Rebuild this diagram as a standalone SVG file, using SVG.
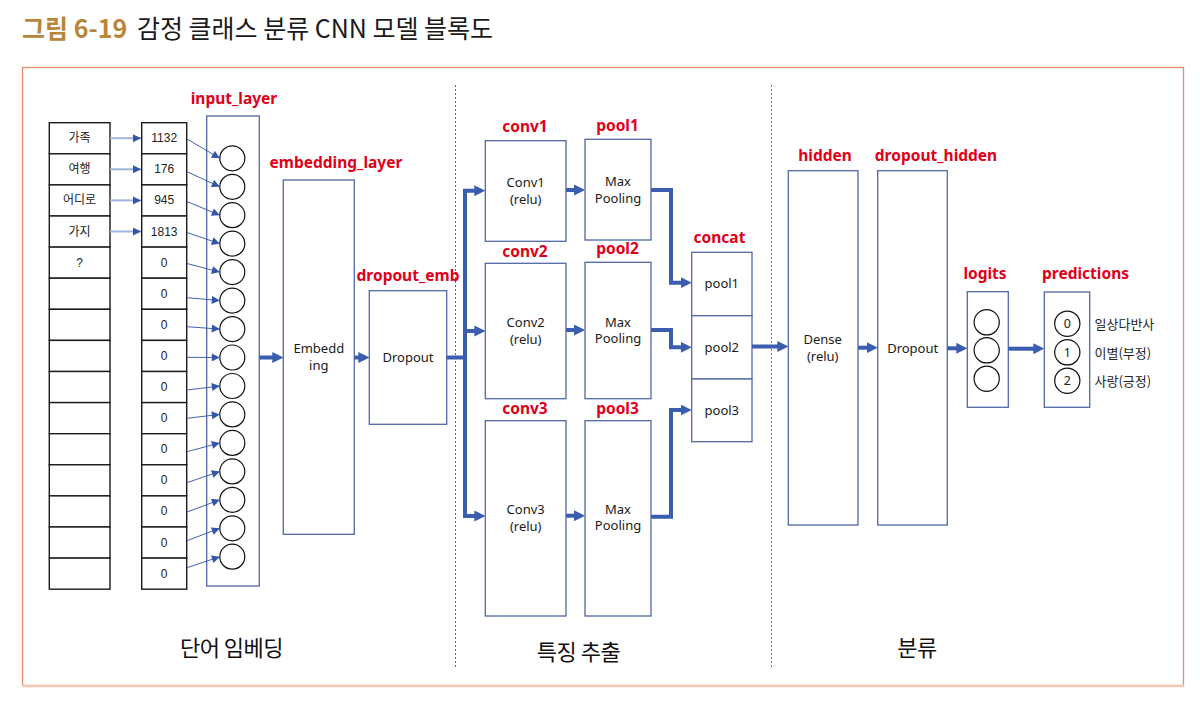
<svg xmlns="http://www.w3.org/2000/svg" width="1200" height="710" viewBox="0 0 1200 710">
<style>
.kr{font-family:"Noto Sans CJK KR","Noto Sans",sans-serif;}
.lbl{font-family:"Noto Sans","Noto Sans CJK KR",sans-serif;font-weight:700;font-size:15.5px;fill:#e00018;text-anchor:middle;}
.tx{font-family:"Noto Sans","Noto Sans CJK KR",sans-serif;font-size:13px;fill:#1a1a1a;text-anchor:middle;}
.cell{fill:#fff;stroke:#1a1a1a;stroke-width:1.4;}
.ctx{font-family:"Liberation Sans","Noto Sans CJK KR",sans-serif;font-size:12px;fill:#222;text-anchor:middle;dominant-baseline:central;}
.num{font-family:"Noto Sans",sans-serif;font-size:12.5px;fill:#222;text-anchor:middle;dominant-baseline:central;}
.cls{font-family:"Noto Sans CJK KR",sans-serif;font-size:13px;fill:#222;text-anchor:start;dominant-baseline:central;}
.box{fill:#fff;stroke:#5167a6;stroke-width:1.3;}
.circ{fill:#fff;stroke:#111;stroke-width:1.2;}
.thick{fill:none;stroke:#3a5db0;stroke-width:4;marker-end:url(#ah);}
.thickn{fill:none;stroke:#3a5db0;stroke-width:4;}
.thin{fill:none;stroke:#3f63b5;stroke-width:1;marker-end:url(#as);}
.thinl{fill:none;stroke:#9fb4dc;stroke-width:2;marker-end:url(#as);}
.sec{font-family:"Noto Sans CJK KR",sans-serif;font-size:22px;fill:#111;text-anchor:middle;}
</style>
<defs>
<marker id="ah" viewBox="0 0 10 10" refX="6" refY="5" markerWidth="11" markerHeight="11" markerUnits="userSpaceOnUse" orient="auto"><path d="M0,0 L10,5 L0,10 z" fill="#3a5db0"/></marker>
<marker id="as" viewBox="0 0 10 10" refX="10" refY="5" markerWidth="9" markerHeight="8" markerUnits="userSpaceOnUse" orient="auto"><path d="M0,0 L10,5 L0,10 z" fill="#3355aa"/></marker>
</defs>
<rect width="1200" height="710" fill="#fff"/>

<g id="title">
<text x="22" y="37.5" class="kr" font-size="25"><tspan font-weight="700" fill="#b8863b">그림 6-19</tspan><tspan x="137" fill="#1a1a1a">감정 클래스 분류 CNN 모델 블록도</tspan></text>
</g>

<g id="frame">
<rect x="22.5" y="67.5" width="1161" height="618" fill="none" stroke="#eb8a66" stroke-width="1.3"/>
<line x1="22" y1="686" x2="1184" y2="686" stroke="#f4c6b4" stroke-width="2.5"/>
<line x1="455.5" y1="85" x2="455.5" y2="667" stroke="#8a5a62" stroke-width="1" stroke-dasharray="2,2"/>
<line x1="771.5" y1="85" x2="771.5" y2="667" stroke="#e04a5a" stroke-width="1" stroke-dasharray="2,2"/>
</g>

<g id="sections">
<text x="231.5" y="656" class="sec" letter-spacing="-0.5">단어 임베딩</text>
<text x="578.5" y="660" class="sec" letter-spacing="-0.5">특징 추출</text>
<text x="917" y="656" class="sec" letter-spacing="-0.5">분류</text>
</g>

<g id="words">
<rect class="cell" x="49.3" y="122.7" width="60.7" height="31.1"/>
<rect class="cell" x="49.3" y="153.8" width="60.7" height="31.1"/>
<rect class="cell" x="49.3" y="184.9" width="60.7" height="31.1"/>
<rect class="cell" x="49.3" y="216" width="60.7" height="31.1"/>
<rect class="cell" x="49.3" y="247.1" width="60.7" height="31.1"/>
<rect class="cell" x="49.3" y="278.2" width="60.7" height="31.1"/>
<rect class="cell" x="49.3" y="309.3" width="60.7" height="31.1"/>
<rect class="cell" x="49.3" y="340.4" width="60.7" height="31.1"/>
<rect class="cell" x="49.3" y="371.5" width="60.7" height="31.1"/>
<rect class="cell" x="49.3" y="402.6" width="60.7" height="31.1"/>
<rect class="cell" x="49.3" y="433.7" width="60.7" height="31.1"/>
<rect class="cell" x="49.3" y="464.8" width="60.7" height="31.1"/>
<rect class="cell" x="49.3" y="495.9" width="60.7" height="31.1"/>
<rect class="cell" x="49.3" y="527" width="60.7" height="31.1"/>
<rect class="cell" x="49.3" y="558.1" width="60.7" height="31.1"/>
<text class="ctx" x="79.6" y="138.2">가족</text>
<text class="ctx" x="79.6" y="169.3">여행</text>
<text class="ctx" x="79.6" y="200.4">어디로</text>
<text class="ctx" x="79.6" y="231.5">가지</text>
<text class="ctx" x="79.6" y="262.6">?</text>
</g>

<g id="indices">
<rect class="cell" x="141.7" y="122.7" width="45" height="31.1"/>
<rect class="cell" x="141.7" y="153.8" width="45" height="31.1"/>
<rect class="cell" x="141.7" y="184.9" width="45" height="31.1"/>
<rect class="cell" x="141.7" y="216" width="45" height="31.1"/>
<rect class="cell" x="141.7" y="247.1" width="45" height="31.1"/>
<rect class="cell" x="141.7" y="278.2" width="45" height="31.1"/>
<rect class="cell" x="141.7" y="309.3" width="45" height="31.1"/>
<rect class="cell" x="141.7" y="340.4" width="45" height="31.1"/>
<rect class="cell" x="141.7" y="371.5" width="45" height="31.1"/>
<rect class="cell" x="141.7" y="402.6" width="45" height="31.1"/>
<rect class="cell" x="141.7" y="433.7" width="45" height="31.1"/>
<rect class="cell" x="141.7" y="464.8" width="45" height="31.1"/>
<rect class="cell" x="141.7" y="495.9" width="45" height="31.1"/>
<rect class="cell" x="141.7" y="527" width="45" height="31.1"/>
<rect class="cell" x="141.7" y="558.1" width="45" height="31.1"/>
<text class="ctx" x="164.2" y="138.2">1132</text>
<text class="ctx" x="164.2" y="169.3">176</text>
<text class="ctx" x="164.2" y="200.4">945</text>
<text class="ctx" x="164.2" y="231.5">1813</text>
<text class="ctx" x="164.2" y="262.6">0</text>
<text class="ctx" x="164.2" y="293.7">0</text>
<text class="ctx" x="164.2" y="324.8">0</text>
<text class="ctx" x="164.2" y="355.9">0</text>
<text class="ctx" x="164.2" y="387">0</text>
<text class="ctx" x="164.2" y="418.1">0</text>
<text class="ctx" x="164.2" y="449.2">0</text>
<text class="ctx" x="164.2" y="480.3">0</text>
<text class="ctx" x="164.2" y="511.4">0</text>
<text class="ctx" x="164.2" y="542.5">0</text>
<text class="ctx" x="164.2" y="573.6">0</text>
</g>

<g id="input_layer">
<text class="lbl" x="234" y="104">input_layer</text>
<rect class="box" x="206.7" y="116" width="52.6" height="470"/>
<circle class="circ" cx="232.3" cy="158.3" r="12.5"/>
<circle class="circ" cx="232.3" cy="186.8" r="12.5"/>
<circle class="circ" cx="232.3" cy="215.2" r="12.5"/>
<circle class="circ" cx="232.3" cy="243.7" r="12.5"/>
<circle class="circ" cx="232.3" cy="272.1" r="12.5"/>
<circle class="circ" cx="232.3" cy="300.6" r="12.5"/>
<circle class="circ" cx="232.3" cy="329.1" r="12.5"/>
<circle class="circ" cx="232.3" cy="357.5" r="12.5"/>
<circle class="circ" cx="232.3" cy="386" r="12.5"/>
<circle class="circ" cx="232.3" cy="414.4" r="12.5"/>
<circle class="circ" cx="232.3" cy="442.9" r="12.5"/>
<circle class="circ" cx="232.3" cy="471.4" r="12.5"/>
<circle class="circ" cx="232.3" cy="499.8" r="12.5"/>
<circle class="circ" cx="232.3" cy="528.3" r="12.5"/>
<circle class="circ" cx="232.3" cy="556.7" r="12.5"/>
</g>

<g id="embedding_layer">
<text class="lbl" x="336" y="167.5">embedding_layer</text>
<rect class="box" x="283.3" y="180" width="71" height="354.3"/>
<text class="tx" x="318.8" y="352.5">Embedd</text>
<text class="tx" x="318.8" y="370">ing</text>
</g>

<g id="dropout_emb">
<text class="lbl" x="408" y="280.5">dropout_emb</text>
<rect class="box" x="369.3" y="290.7" width="77.4" height="133.6"/>
<text class="tx" x="408" y="362">Dropout</text>
</g>

<g id="conv1">
<text class="lbl" x="525" y="131.5">conv1</text>
<rect class="box" x="485.3" y="140.7" width="80.7" height="100.6"/>
<text class="tx" x="525.7" y="186.8">Conv1</text>
<text class="tx" x="525.7" y="203.8">(relu)</text>
</g>
<g id="pool1">
<text class="lbl" x="617.5" y="130.5">pool1</text>
<rect class="box" x="585" y="139.3" width="66" height="100.7"/>
<text class="tx" x="618" y="186.2">Max</text>
<text class="tx" x="618" y="203.2">Pooling</text>
</g>
<g id="conv2">
<text class="lbl" x="525" y="257">conv2</text>
<rect class="box" x="485.3" y="263.3" width="80.7" height="135.4"/>
<text class="tx" x="525.7" y="326.8">Conv2</text>
<text class="tx" x="525.7" y="343.8">(relu)</text>
</g>
<g id="pool2">
<text class="lbl" x="617.5" y="253.5">pool2</text>
<rect class="box" x="585" y="262.3" width="66" height="136.4"/>
<text class="tx" x="618" y="326.8">Max</text>
<text class="tx" x="618" y="343.2">Pooling</text>
</g>
<g id="conv3">
<text class="lbl" x="525" y="413.5">conv3</text>
<rect class="box" x="485.3" y="420.7" width="80.7" height="195.3"/>
<text class="tx" x="525.7" y="514">Conv3</text>
<text class="tx" x="525.7" y="530.5">(relu)</text>
</g>
<g id="pool3">
<text class="lbl" x="617.5" y="413.5">pool3</text>
<rect class="box" x="585" y="420.7" width="66" height="195.3"/>
<text class="tx" x="618" y="513.5">Max</text>
<text class="tx" x="618" y="530">Pooling</text>
</g>

<g id="concat">
<text class="lbl" x="719.5" y="243">concat</text>
<rect class="box" x="691.7" y="252.3" width="60.3" height="63.4"/>
<rect class="box" x="691.7" y="315.7" width="60.3" height="63.3"/>
<rect class="box" x="691.7" y="379" width="60.3" height="62.7"/>
<text class="tx" x="721.8" y="287.8">pool1</text>
<text class="tx" x="721.8" y="352.2">pool2</text>
<text class="tx" x="721.8" y="415.2">pool3</text>
</g>

<g id="hidden">
<text class="lbl" x="825" y="161">hidden</text>
<rect class="box" x="788.3" y="170.7" width="69.7" height="354.3"/>
<text class="tx" x="822.7" y="343.8">Dense</text>
<text class="tx" x="822.7" y="361.2">(relu)</text>
</g>

<g id="dropout_hidden">
<text class="lbl" x="936" y="161">dropout_hidden</text>
<rect class="box" x="877.7" y="170.7" width="69.6" height="354.3"/>
<text class="tx" x="912.7" y="352.8">Dropout</text>
</g>

<g id="logits">
<text class="lbl" x="985" y="278.5">logits</text>
<rect class="box" x="967.3" y="291.7" width="41" height="115.6"/>
<circle class="circ" cx="986.7" cy="322.3" r="12.6"/>
<circle class="circ" cx="986.7" cy="350.3" r="12.6"/>
<circle class="circ" cx="986.7" cy="378.7" r="12.6"/>
</g>

<g id="predictions">
<text class="lbl" x="1085.5" y="278.5">predictions</text>
<rect class="box" x="1044.3" y="292" width="45.4" height="115.3"/>
<circle class="circ" cx="1067.3" cy="323.7" r="12.6"/>
<circle class="circ" cx="1067.3" cy="352.3" r="12.6"/>
<circle class="circ" cx="1067.3" cy="380.7" r="12.6"/>
<text class="num" x="1067.3" y="323.7">0</text>
<text class="num" x="1067.3" y="352.3">1</text>
<text class="num" x="1067.3" y="380.7">2</text>
<text class="cls" x="1094.5" y="323.7">일상다반사</text>
<text class="cls" x="1094.5" y="352.3">이별(부정)</text>
<text class="cls" x="1094.5" y="380.7">사랑(긍정)</text>
</g>

<g id="connectors">
<path class="thinl" d="M110,138.2 H141"/>
<path class="thinl" d="M110,169.3 H141"/>
<path class="thinl" d="M110,200.4 H141"/>
<path class="thinl" d="M110,231.5 H141"/>
<path class="thin" d="M187,139 L219.8,158.3"/>
<path class="thin" d="M187,171.7 L219.8,186.8"/>
<path class="thin" d="M187,201.5 L219.8,215.2"/>
<path class="thin" d="M187,232.5 L219.8,243.7"/>
<path class="thin" d="M187,263.5 L219.8,272.1"/>
<path class="thin" d="M187,297.7 L219.8,300.6"/>
<path class="thin" d="M187,326.7 L219.8,329.1"/>
<path class="thin" d="M187,357.3 L219.8,357.5"/>
<path class="thin" d="M187,390 L219.8,386"/>
<path class="thin" d="M187,418.3 L219.8,414.4"/>
<path class="thin" d="M187,451.7 L219.8,442.9"/>
<path class="thin" d="M187,482.7 L219.8,471.4"/>
<path class="thin" d="M187,512 L219.8,499.8"/>
<path class="thin" d="M187,540.7 L219.8,528.3"/>
<path class="thin" d="M187,567.7 L219.8,556.7"/>

<path class="thick" d="M259.3,357.5 H278.9"/>
<path class="thick" d="M354.3,357.5 H364.9"/>
<path class="thickn" d="M446.7,357.5 H465"/>
<path class="thick" d="M465,360 V190.7 H480.9"/>
<path class="thick" d="M465,331 H480.9"/>
<path class="thick" d="M465,330 V516 H480.9"/>
<path class="thick" d="M566,190 H580.6"/>
<path class="thick" d="M566,330 H580.6"/>
<path class="thick" d="M566,515.7 H580.6"/>
<path class="thick" d="M651,190 H671 V282.7 H687.3"/>
<path class="thick" d="M651,330 H671 V347.3 H687.3"/>
<path class="thick" d="M651,516.7 H671 V410 H687.3"/>
<path class="thick" d="M752,346.5 H783.9"/>
<path class="thick" d="M858,347.7 H873.3"/>
<path class="thick" d="M947.3,348.3 H962.9"/>
<path class="thick" d="M1008.3,348.7 H1039.9"/>
</g>
</svg>
